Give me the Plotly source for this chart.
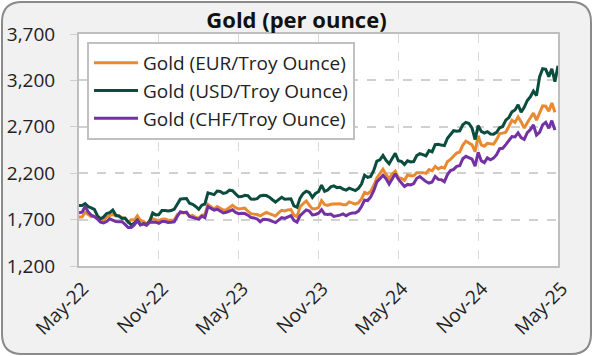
import pandas as pd
import plotly.graph_objects as go

# ---- data (weekly) ----
dates = pd.date_range("2022-05-27", periods=157, freq="7D")

gold_usd = [
    1853, 1851, 1871, 1840, 1827, 1811, 1742, 1708, 1727, 1765, 1775, 1802, 1747, 1737, 1712, 1717,
    1675, 1644, 1661, 1695, 1644, 1657, 1645, 1681, 1771, 1751, 1754, 1797, 1797, 1793, 1798, 1812,
    1865, 1920, 1926, 1928, 1876, 1865, 1842, 1811, 1855, 1868, 1989, 1978, 1969, 2007, 2004, 1982,
    1990, 2017, 2011, 1977, 1946, 1948, 1961, 1958, 1921, 1919, 1925, 1955, 1962, 1959, 1942, 1914,
    1889, 1915, 1940, 1919, 1924, 1925, 1848, 1833, 1932, 1981, 2006, 1992, 1940, 1981, 2001, 2072,
    2004, 2019, 2053, 2063, 2045, 2049, 2029, 2018, 2039, 2024, 2013, 2036, 2083, 2179, 2155, 2165,
    2230, 2330, 2344, 2391, 2338, 2302, 2360, 2415, 2334, 2327, 2293, 2333, 2322, 2326, 2391, 2411,
    2400, 2387, 2443, 2431, 2507, 2512, 2503, 2497, 2577, 2621, 2658, 2653, 2657, 2721, 2747, 2736,
    2685, 2563, 2712, 2650, 2633, 2648, 2622, 2621, 2640, 2690, 2703, 2771, 2800, 2861, 2882, 2936,
    2858, 2910, 2984, 3023, 3084, 3037, 3237, 3326, 3319, 3241, 3325, 3187, 3357,
]

gold_eur = [
    1727, 1727, 1779, 1754, 1732, 1736, 1711, 1694, 1691, 1727, 1744, 1756, 1740, 1742, 1721, 1710,
    1673, 1697, 1695, 1740, 1691, 1681, 1652, 1688, 1711, 1697, 1687, 1705, 1707, 1693, 1693, 1693,
    1753, 1773, 1775, 1774, 1737, 1746, 1723, 1717, 1745, 1756, 1864, 1838, 1816, 1841, 1822, 1803,
    1806, 1830, 1853, 1829, 1815, 1819, 1824, 1790, 1764, 1759, 1755, 1741, 1764, 1778, 1764, 1748,
    1738, 1773, 1800, 1793, 1805, 1808, 1748, 1731, 1838, 1871, 1900, 1856, 1816, 1816, 1829, 1904,
    1862, 1852, 1865, 1869, 1869, 1871, 1861, 1860, 1891, 1878, 1867, 1882, 1922, 1992, 1979, 2003,
    2067, 2149, 2203, 2243, 2187, 2139, 2191, 2222, 2151, 2145, 2123, 2180, 2172, 2172, 2206, 2210,
    2206, 2198, 2239, 2226, 2273, 2245, 2265, 2254, 2326, 2349, 2382, 2418, 2429, 2503, 2544, 2526,
    2505, 2432, 2603, 2505, 2491, 2522, 2514, 2513, 2561, 2627, 2632, 2642, 2703, 2770, 2747, 2807,
    2753, 2687, 2743, 2794, 2848, 2771, 2852, 2925, 2922, 2868, 2956, 2856, None,
]

gold_chf = [
    1773, 1779, 1841, 1783, 1747, 1733, 1707, 1672, 1663, 1679, 1709, 1696, 1679, 1678, 1678, 1648,
    1615, 1616, 1643, 1690, 1644, 1654, 1640, 1671, 1674, 1672, 1659, 1680, 1680, 1669, 1672, 1676,
    1733, 1784, 1774, 1781, 1733, 1723, 1706, 1702, 1738, 1722, 1840, 1818, 1802, 1812, 1792, 1772,
    1779, 1795, 1806, 1777, 1763, 1769, 1765, 1748, 1723, 1718, 1707, 1677, 1703, 1700, 1695, 1681,
    1668, 1695, 1721, 1712, 1726, 1742, 1691, 1672, 1743, 1769, 1805, 1793, 1750, 1755, 1769, 1807,
    1760, 1755, 1759, 1735, 1740, 1748, 1761, 1742, 1762, 1771, 1771, 1792, 1841, 1909, 1905, 1944,
    2011, 2106, 2140, 2178, 2139, 2083, 2138, 2195, 2136, 2099, 2057, 2079, 2074, 2089, 2145, 2163,
    2134, 2110, 2094, 2105, 2166, 2133, 2130, 2107, 2185, 2228, 2241, 2274, 2280, 2356, 2382, 2367,
    2352, 2276, 2425, 2335, 2314, 2365, 2344, 2362, 2400, 2464, 2468, 2508, 2551, 2595, 2591, 2634,
    2584, 2564, 2638, 2669, 2720, 2612, 2641, 2721, 2748, 2684, 2766, 2664, None,
]

series_names = ["Gold (EUR/Troy Ounce)", "Gold (USD/Troy Ounce)", "Gold (CHF/Troy Ounce)"]
series_colors = ["#EA8A30", "#0A4D3E", "#7431A3"]
tick_labels = ["May-22", "Nov-22", "May-23", "Nov-23", "May-24", "Nov-24", "May-25"]
y_ticks = [1200, 1700, 2200, 2700, 3200, 3700]

# ---- layout geometry ----
W, H = 593, 356
L, R, T, B = 79, 35, 34, 90
PW, PH = W - L - R, H - T - B


def px(x):
    return (x - L) / PW


def py(y):
    return (H - B - y) / PH


def rounded_path(x0, y0, x1, y1, r):
    pts = [
        ("M", [(x0 + r, y0)]),
        ("L", [(x1 - r, y0)]),
        ("Q", [(x1, y0), (x1, y0 + r)]),
        ("L", [(x1, y1 - r)]),
        ("Q", [(x1, y1), (x1 - r, y1)]),
        ("L", [(x0 + r, y1)]),
        ("Q", [(x0, y1), (x0, y1 - r)]),
        ("L", [(x0, y0 + r)]),
        ("Q", [(x0, y0), (x0 + r, y0)]),
    ]
    s = ""
    for cmd, ps in pts:
        s += cmd + " " + " ".join(f"{px(a):.5f},{py(b):.5f}" for a, b in ps) + " "
    return s + "Z"


fig = go.Figure()
for name, vals, col in zip(series_names, [gold_eur, gold_usd, gold_chf], series_colors):
    fig.add_trace(go.Scatter(
        x=dates, y=vals, name=name, mode="lines",
        line=dict(color=col, width=3), connectgaps=False,
    ))

fig.update_layout(
    width=W, height=H, autosize=False,
    margin=dict(l=L, r=R, t=T, b=B, pad=0, autoexpand=False),
    paper_bgcolor="white",
    plot_bgcolor="white",
    font=dict(family="Open Sans, Segoe UI, sans-serif", size=19, color="#222222"),
    title=dict(
        text="<b>Gold (per ounce)</b>", x=0.5, xref="container", xanchor="center",
        y=1 - 20 / H, yanchor="middle",
        font=dict(size=22, color="#111111"),
    ),
    showlegend=True,
    legend=dict(
        x=px(87), y=py(42), xanchor="left", yanchor="top",
        bgcolor="white", bordercolor="#c0c0c0", borderwidth=2,
        font=dict(size=19, color="#222222"),
        traceorder="normal", itemwidth=44,
    ),
    shapes=[
        dict(type="path", xref="paper", yref="paper", layer="below",
             path=rounded_path(2, 2, 591, 354, 20),
             fillcolor="#f1f1f1", line=dict(color="#8a8a8a", width=2)),
        dict(type="rect", xref="paper", yref="paper", layer="below",
             x0=0, x1=1, y0=0, y1=1, fillcolor="white", line=dict(width=0)),
    ],
)

fig.update_xaxes(
    range=[dates[0], dates[-1]],
    tickvals=list(dates[::26]), ticktext=tick_labels,
    tickangle=-45, ticks="", ticklabelstandoff=2, ticklabelshift=4,
    tickfont=dict(size=19), automargin=False,
    showgrid=True, gridcolor="#d9d9d9", griddash="dash", gridwidth=1,
    showline=True, linecolor="#bfbfbf", linewidth=2, mirror=True,
    zeroline=False,
)
fig.update_yaxes(
    range=[1200, 3700], tickvals=y_ticks, tickformat=",",
    ticks="outside", ticklen=7, tickcolor="#cfcfcf", tickwidth=1,
    ticklabelstandoff=11, tickfont=dict(size=19), automargin=False,
    showgrid=True, gridcolor="#d0d0d0", griddash="dash", gridwidth=1.5,
    showline=True, linecolor="#bfbfbf", linewidth=2, mirror=True,
    zeroline=False,
)

fig.write_html(
    "out.html",
    config={"responsive": False, "displayModeBar": False},
    post_script="document.body.style.margin='0';",
)
